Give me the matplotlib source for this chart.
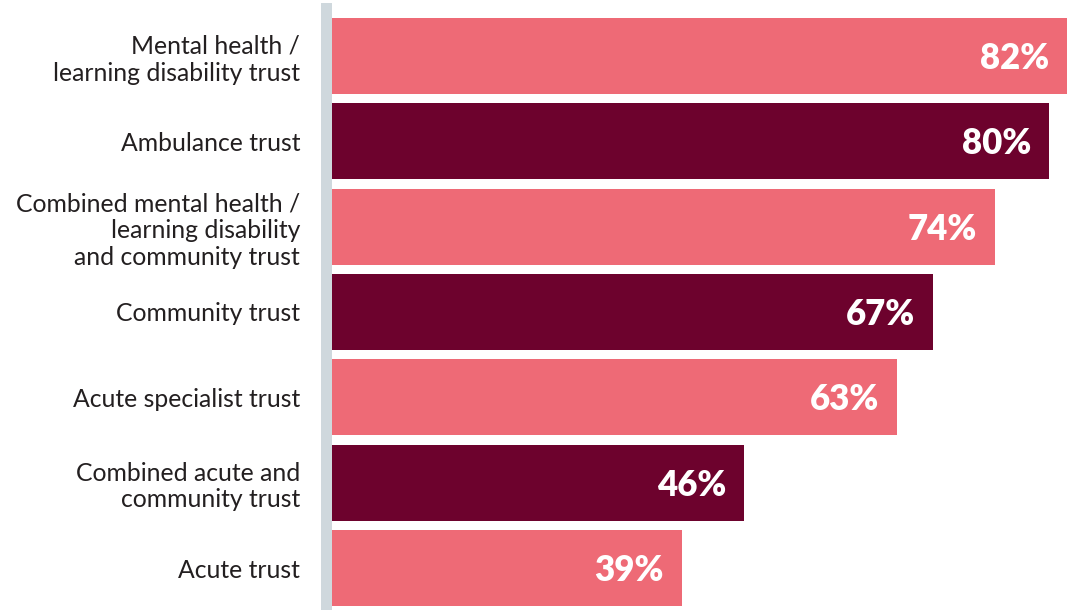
import matplotlib.pyplot as plt

categories = [
    "Mental health /\nlearning disability trust",
    "Ambulance trust",
    "Combined mental health /\nlearning disability\nand community trust",
    "Community trust",
    "Acute specialist trust",
    "Combined acute and\ncommunity trust",
    "Acute trust",
]
values = [82, 80, 74, 67, 63, 46, 39]

PINK = "#EE6A76"
MAROON = "#6D022D"
colors = [PINK if i % 2 == 0 else MAROON for i in range(len(values))]

plt.rcParams['font.family'] = ['Lato', 'DejaVu Sans']

fig = plt.figure(figsize=(10.67, 6.1), dpi=100)
ax = fig.add_axes([332 / 1067, 0, 1 - 332 / 1067, 1])

pos = list(range(len(values)))
ax.barh(pos, values, height=0.89, color=colors, left=0)

for y, v in zip(pos, values):
    ax.text(v - 2.0, y + 0.03, f"{v}%", ha="right", va="center", color="white",
            fontsize=25, fontweight="heavy")

ax.set_xlim(0, 82)
ax.set_ylim(6.492, -0.656)

# spine setup first: set_position resets the ticks
for s in ["top", "right", "bottom"]:
    ax.spines[s].set_visible(False)
ax.spines["left"].set_color("#CFD8DD")
ax.spines["left"].set_linewidth(7.9)
ax.spines["left"].set_position(("outward", 4))
ax.spines["left"].set_bounds(-0.563, 6.492)

ax.set_xticks([])
ax.set_yticks(pos)
ax.set_yticklabels(categories, fontsize=17.8, color="#231F20", linespacing=1.2)
ax.tick_params(axis="y", length=0, pad=19)

plt.savefig("out.png", dpi=100)
